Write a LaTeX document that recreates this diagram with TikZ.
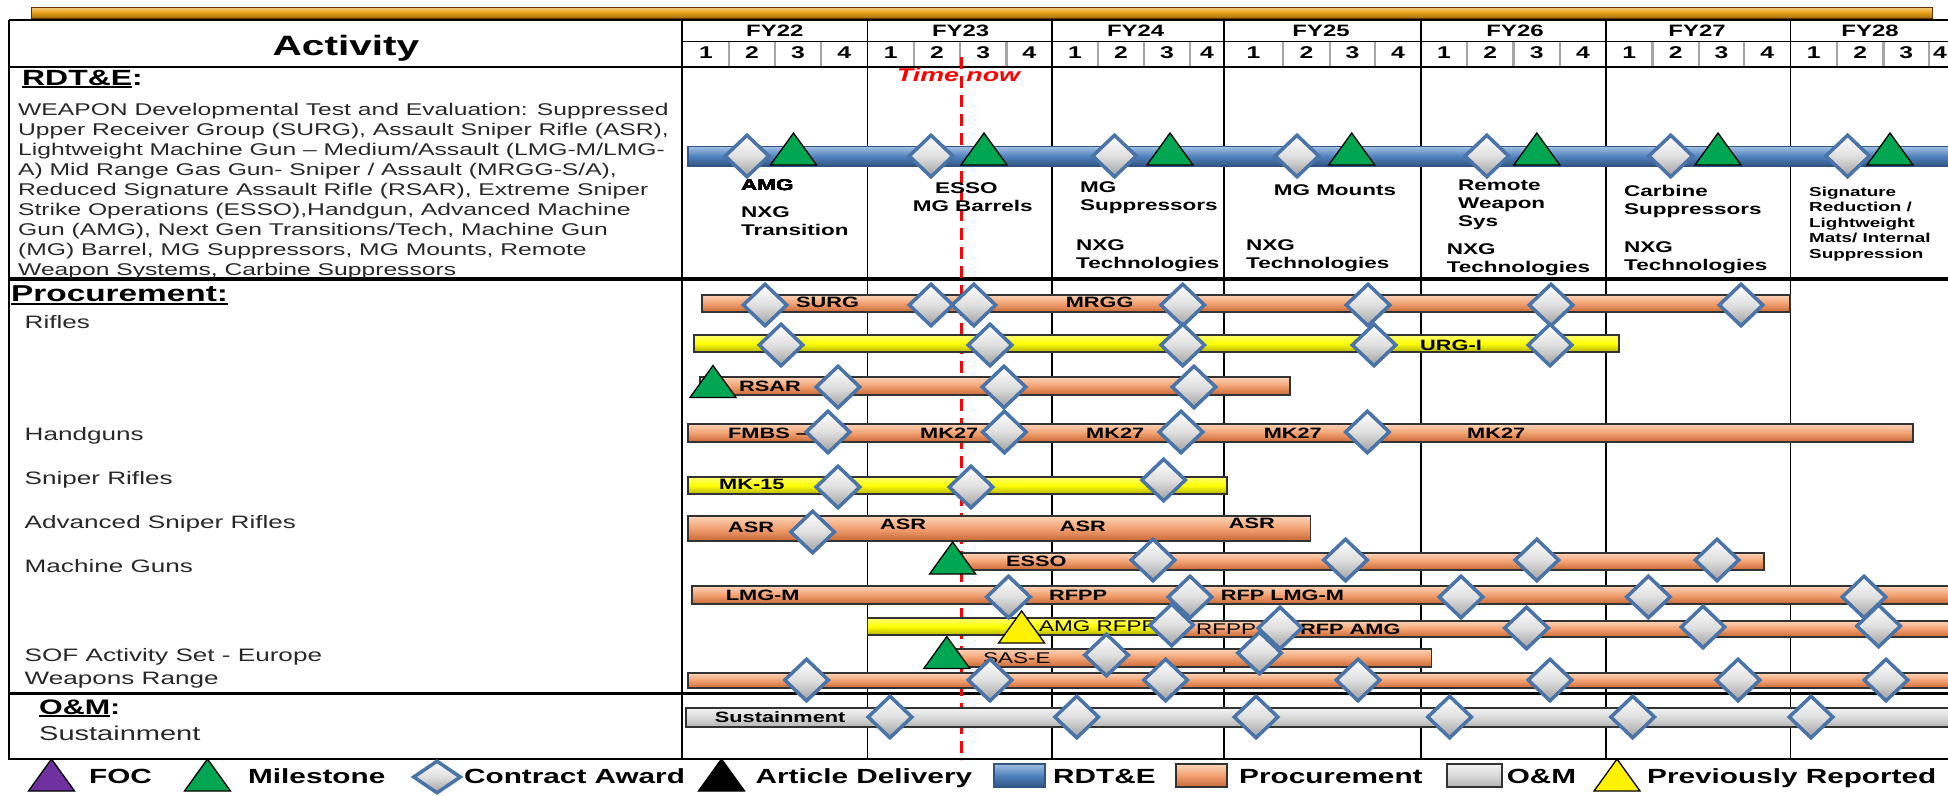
\documentclass[tikz,border=0pt]{standalone}
\usepackage{fontspec}
\setmainfont{Liberation Sans}[FakeStretch=1.45]
\usetikzlibrary{shapes.geometric}

\definecolor{rdteblue}{RGB}{79,129,189}
\definecolor{rdtelight}{RGB}{160,190,225}
\definecolor{rdtedark}{RGB}{50,85,130}
\definecolor{procmid}{RGB}{242,160,112}
\definecolor{proclight}{RGB}{252,212,185}
\definecolor{procdark}{RGB}{200,105,55}
\definecolor{awardblue}{RGB}{74,116,168}
\definecolor{msgreen}{RGB}{0,166,81}
\definecolor{focpurple}{RGB}{112,48,160}
\definecolor{goldbar}{RGB}{232,160,20}
\definecolor{txtgray}{RGB}{40,40,40}

\newsavebox\ulbox
\newcommand{\thickul}[1]{\sbox\ulbox{#1}\rlap{\rule[-3pt]{\wd\ulbox}{1.8pt}}\usebox\ulbox}
\newcommand{\mstone}[3]{\draw[tri, fill=#3] (#1,#2) ++(-23,16) -- ++(23,-32) -- ++(23,32) -- cycle;}

\begin{document}
\begin{tikzpicture}[
  x=1pt, y=-1pt,
  bodytxt/.style={font=\fontsize{17}{20}\selectfont, text=txtgray, anchor=base west, inner sep=0pt, align=left},
  rowlbl/.style={font=\fontsize{18}{20}\selectfont, text=txtgray, anchor=base west, inner sep=0pt},
  sechead/.style={font=\bfseries\fontsize{22}{24}\selectfont, anchor=base west, inner sep=0pt},
  fylbl/.style={font=\bfseries\fontsize{16.5}{18}\selectfont, anchor=base, inner sep=0pt},
  qlbl/.style={font=\bfseries\fontsize{17}{18}\selectfont, anchor=base, inner sep=0pt},
  rdtelbl/.style={font=\bfseries\fontsize{15.5}{18}\selectfont, anchor=base west, inner sep=0pt, align=left},
  barlbl/.style={font=\bfseries\fontsize{15}{16}\selectfont, anchor=west, inner sep=0pt},
  barlblr/.style={barlbl, font=\fontsize{15.5}{16}\selectfont},
  legtxt/.style={font=\bfseries\fontsize{20.5}{22}\selectfont, anchor=base west, inner sep=0pt},
  award/.style={shape=diamond, draw=awardblue, line width=3.5pt, minimum width=45pt, minimum height=43pt, inner sep=0pt, top color=white, bottom color=gray!75, middle color=gray!25},
  tri/.style={draw=black, line width=1.3pt, line join=miter},
  procbar/.style={draw=black!80, line width=1.3pt, top color=proclight, bottom color=procdark, middle color=procmid},
  yelbar/.style={draw=black!80, line width=1.3pt, top color=yellow!55!white, bottom color=yellow!70!black, middle color=yellow},
  grybar/.style={draw=black!80, line width=1.3pt, top color=gray!10, bottom color=gray!60, middle color=gray!30},
  rdtebar/.style={draw=rdtedark, line width=1.5pt, top color=rdtelight, bottom color=rdtedark, middle color=rdteblue},
  qline/.style={draw=gray!70, line width=2.5pt}
]
  \useasboundingbox (0,0) rectangle (1948,795);
  \clip (0,0) rectangle (1948,795);

  % top banner
  \draw[draw=black!60!orange, line width=0.8pt, top color=goldbar!50!white, bottom color=goldbar!70!black, middle color=goldbar] (31,7) rectangle (1932,18);

  % table grid
  \foreach \x in {729,775,821,913.8,960,1006.5,1098,1144,1190,1283,1329.8,1375,1467,1513.7,1560,1652.5,1699,1744,1837,1883.6,1929}
    \draw[qline] (\x,41.7) -- (\x,66.7);
  \draw[line width=2pt] (9,20) -- (1960,20);
  \draw[line width=1.5pt] (683,41.7) -- (1960,41.7);
  \draw[line width=1.8pt] (9,66.7) -- (1960,66.7);
  \draw[line width=2pt] (9,20) -- (9,760);
  \draw[line width=2pt] (682,20) -- (682,760);
  \foreach \x in {867.7,1052,1223.8,1421,1606,1790.6}
    \draw[line width=1.5pt] (\x,20) -- (\x,760);
  \draw[line width=3.5pt] (9,279) -- (1960,279);
  \draw[line width=3.5pt] (9,693.3) -- (1960,693.3);
  \draw[line width=2pt] (9,759.3) -- (1960,759.3);

  % header
  \node[font=\bfseries\fontsize{28}{30}\selectfont, anchor=base, inner sep=0pt] (activity) at (346,55) {Activity};
  \foreach \x/\t in {774.8/FY22, 960.6/FY23, 1135.6/FY24, 1321/FY25, 1515/FY26, 1697/FY27, 1870/FY28}
    \node[fylbl] (\t) at (\x,36.7) {\t};
  \foreach \x/\q [count=\i] in {706/1, 752/2, 798/3, 844.3/4, 890.7/1, 937/2, 983.2/3, 1029.2/4,
      1075/1, 1121/2, 1167/3, 1207/4, 1253.4/1, 1306.4/2, 1352.4/3, 1398/4,
      1444/1, 1490.3/2, 1536.8/3, 1583/4, 1629.2/1, 1675.7/2, 1721.5/3, 1767.3/4,
      1813.8/1, 1860.3/2, 1906.3/3, 1940/4}
    \node[qlbl] (q\i) at (\x,58.5) {\q};

  % left column (multi-line nodes sit on their last baseline)
  \node[sechead] (rdte) at (22,85) {\thickul{RDT\&E}:};
  \node[bodytxt] (rdtetxt) at (18,275) {WEAPON Developmental Test and Evaluation: Suppressed\\
    Upper Receiver Group (SURG), Assault Sniper Rifle (ASR),\\
    Lightweight Machine Gun -- Medium/Assault (LMG-M/LMG-\\
    A) Mid Range Gas Gun- Sniper / Assault (MRGG-S/A),\\
    Reduced Signature Assault Rifle (RSAR), Extreme Sniper\\
    Strike Operations (ESSO),Handgun, Advanced Machine\\
    Gun (AMG), Next Gen Transitions/Tech, Machine Gun\\
    (MG) Barrel, MG Suppressors, MG Mounts, Remote\\
    Weapon Systems, Carbine Suppressors};
  \node[sechead, font=\bfseries\fontsize{23}{24}\selectfont] (proc) at (11,301.7) {\thickul{Procurement:}};
  \node[rowlbl] (rifles) at (24.5,328) {Rifles};
  \node[rowlbl] (handguns) at (24.5,440) {Handguns};
  \node[rowlbl] (sniper) at (24.5,484) {Sniper Rifles};
  \node[rowlbl] (advsniper) at (24.5,528) {Advanced Sniper Rifles};
  \node[rowlbl] (mguns) at (24.5,572.7) {Machine Guns};
  \node[rowlbl] (sof) at (24.5,661.7) {SOF Activity Set - Europe};
  \node[rowlbl] (range) at (24.5,684) {Weapons Range};
  \node[sechead, font=\bfseries\fontsize{21}{24}\selectfont] (om) at (39,714) {\thickul{O\&M}:};
  \node[rowlbl, font=\fontsize{20}{22}\selectfont] (sustain) at (39,740) {Sustainment};

  % time now
  \draw[red, line width=3.5pt, dash pattern=on 12pt off 7pt] (961.6,57) -- (961.6,760);
  \node[font=\bfseries\itshape\fontsize{18.5}{20}\selectfont, text=red, anchor=base, inner sep=0pt] (timenow) at (958.5,81.7) {Time now};

  % RDT&E line
  \draw[rdtebar] (688,146.7) rectangle (1960,166);
  \foreach \x [count=\i] in {747,931,1114.5,1297,1486.8,1670.7,1847.6}
    \node[award] (rd\i) at (\x,156) {};
  \foreach \x in {793.5,984,1170,1351.7,1536.8,1718,1890}
    \mstone{\x}{149}{msgreen}
  \node[rdtelbl] (amg) at (741,190) {AMG};
  \node[rdtelbl] (nxgtr) at (741,235) {NXG\\Transition};
  \node[rdtelbl] (esso) at (935,193) {ESSO};
  \node[rdtelbl] (mgbar) at (912.6,211) {MG Barrels};
  \node[rdtelbl] (mgsup) at (1080,210) {MG\\Suppressors};
  \node[rdtelbl] (nxg24) at (1076,268) {NXG\\Technologies};
  \node[rdtelbl] (mgmount) at (1273.6,195) {MG Mounts};
  \node[rdtelbl] (nxg25) at (1246,268) {NXG\\Technologies};
  \node[rdtelbl] (remote) at (1458,226.7) {Remote\\Weapon\\Sys};
  \node[rdtelbl] (nxg26) at (1446.7,272) {NXG\\Technologies};
  \node[rdtelbl] (carbine) at (1624,214.7) {Carbine\\Suppressors};
  \node[rdtelbl] (nxg27) at (1624,270) {NXG\\Technologies};
  \node[rdtelbl, font=\bfseries\fontsize{13}{15.5}\selectfont] (sigred) at (1809,258) {Signature\\Reduction /\\Lightweight\\Mats/ Internal\\Suppression};

  % procurement bars
  \draw[procbar] (702,295) rectangle (1790,312);
  \draw[yelbar] (694,335) rectangle (1619,352);
  \draw[procbar] (700,377) rectangle (1290,395);
  \draw[procbar] (688,424) rectangle (1913,442);
  \draw[yelbar] (688,477) rectangle (1227,494);
  \draw[procbar] (688,516) rectangle (1310.6,541);
  \draw[procbar] (962,553) rectangle (1764,570);
  \draw[procbar] (692,586) rectangle (1960,604);
  \draw[yelbar] (867.7,618) rectangle (1162,635);
  \draw[procbar] (1162,621) rectangle (1960,637);
  \draw[procbar] (950,649) rectangle (1431.4,667);
  \draw[procbar] (688,673) rectangle (1960,688);
  \draw[grybar] (686,708) rectangle (1960,727);

  \node[barlbl] (surg) at (796,302) {SURG};
  \node[barlbl] (mrgg) at (1065.6,302) {MRGG};
  \node[barlbl] (urgi) at (1420,345) {URG-I};
  \node[barlbl] (rsar) at (739,386) {RSAR};
  \node[barlbl] (fmbs) at (728,433) {FMBS --};
  \foreach \x [count=\i] in {920,1086,1263.6,1467}
    \node[barlbl] (mk\i) at (\x,433) {MK27};
  \node[barlbl] (mkfif) at (719,484) {MK-15};
  \foreach \x/\y [count=\i] in {728/527, 880/524, 1059.6/526, 1228.7/523}
    \node[barlbl] (asr\i) at (\x,\y) {ASR};
  \node[barlbl] (essop) at (1006,561) {ESSO};
  \node[barlbl] (lmgm) at (725.7,595) {LMG-M};
  \node[barlbl] (rfpp) at (1049,595) {RFPP};
  \node[barlbl] (rfplmg) at (1220.6,595) {RFP LMG-M};
  \node[barlblr] (amgrfpp) at (1039,626) {AMG RFPP};
  \node[barlblr] (rfppb) at (1196,629) {RFPP};
  \node[barlbl] (rfpamg) at (1300,629) {RFP AMG};
  \node[barlblr] (sase) at (983,658) {SAS-E};
  \node[barlbl] (sustp) at (714.7,717.5) {Sustainment};

  \mstone{713}{381.5}{msgreen}
  \mstone{952.6}{558}{msgreen}
  \mstone{1021.6}{627}{yellow}
  \mstone{946.8}{652.5}{msgreen}

  % contract awards
  \foreach \x/\y [count=\i] in {765/305, 931/305, 973.8/305, 1182.7/305, 1368/305, 1551/305, 1741/305,
      781/345, 990/345, 1182.7/345, 1374/345, 1550/345,
      838/387, 1004/387, 1194/387,
      828/432, 1004.4/432, 1181/432, 1367.4/432,
      838/487, 971/487, 1163.6/480,
      812.6/532,
      1153/560, 1345.5/560, 1536.8/560, 1717/560,
      1008.5/597, 1190/597, 1461/597, 1648.4/597, 1864/597,
      1171.6/625, 1280/628, 1526.5/628, 1703/627, 1878.6/626,
      1106.5/655, 1259.5/653,
      806.5/680, 990/680, 1165.6/680, 1358/680, 1550/680, 1738/680, 1886/680,
      890/717, 1076.7/717, 1256/717, 1449.6/717, 1632.7/717, 1811/717}
    \node[award] (ca\i) at (\x,\y) {};

  % legend
  \mstone{51.5}{775}{focpurple}
  \node[legtxt] (foc) at (89,783.3) {FOC};
  \mstone{207.5}{775}{msgreen}
  \node[legtxt] (milestone) at (248,783.3) {Milestone};
  \node[award, minimum width=48pt, minimum height=33pt] (legaward) at (437,777) {};
  \node[legtxt] (contract) at (464,783.3) {Contract Award};
  \mstone{721.5}{775}{black}
  \node[legtxt] (article) at (755.5,783.3) {Article Delivery};
  \draw[rdtebar, line width=2pt] (994,764) rectangle (1045,787);
  \node[legtxt] (legrdte) at (1053,783.3) {RDT\&E};
  \draw[procbar, line width=2pt] (1176,764) rectangle (1227,787);
  \node[legtxt] (legproc) at (1239,783.3) {Procurement};
  \draw[grybar, line width=2pt] (1447,764) rectangle (1502,787);
  \node[legtxt] (legom) at (1506.6,783.3) {O\&M};
  \mstone{1617}{775}{yellow}
  \node[legtxt] (prevrep) at (1647,783.3) {Previously Reported};
\end{tikzpicture}
\end{document}
